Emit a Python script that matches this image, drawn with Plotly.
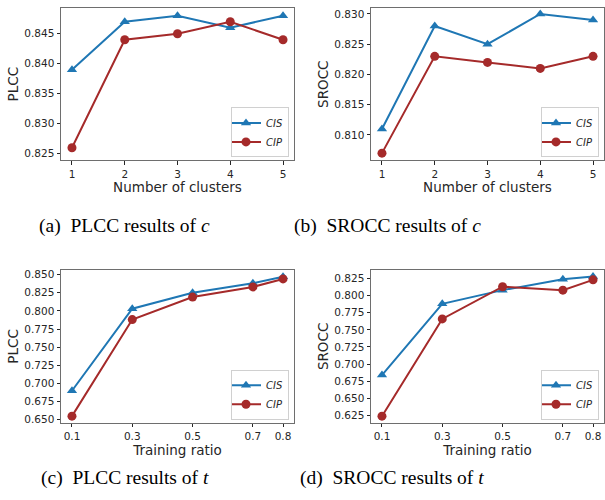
import plotly.graph_objects as go

clusters = [1, 2, 3, 4, 5]
ratios = [0.1, 0.3, 0.5, 0.7, 0.8]
ratio_labels = ["0.1", "0.3", "0.5", "0.7", "0.8"]

plcc_c_cis = [0.839, 0.847, 0.848, 0.846, 0.848]
plcc_c_cip = [0.826, 0.844, 0.845, 0.847, 0.844]
srocc_c_cis = [0.811, 0.828, 0.825, 0.830, 0.829]
srocc_c_cip = [0.807, 0.823, 0.822, 0.821, 0.823]
plcc_t_cis = [0.690, 0.803, 0.825, 0.838, 0.847]
plcc_t_cip = [0.655, 0.788, 0.819, 0.833, 0.844]
srocc_t_cis = [0.684, 0.788, 0.808, 0.824, 0.828]
srocc_t_cip = [0.624, 0.766, 0.813, 0.808, 0.823]

W, H = 605, 500
BLUE = "#1f77b4"
RED = "#a52a2a"
TXT = "#262626"
FRAME = "#6e6e6e"

fig = go.Figure()

panels = [
    (clusters, plcc_c_cis, plcc_c_cip, "legend", "PLCC", "Number of clusters",
     (61, 294), (6, 160), (0.8239, 0.8493), [0.825, 0.830, 0.835, 0.840, 0.845], (289, 157)),
    (clusters, srocc_c_cis, srocc_c_cip, "legend2", "SROCC", "Number of clusters",
     (371, 604), (6, 160), (0.8058, 0.8310), [0.810, 0.815, 0.820, 0.825, 0.830], (599, 157)),
    (ratios, plcc_t_cis, plcc_t_cip, "legend3", "PLCC", "Training ratio",
     (61, 294), (270.7, 425), (0.6459, 0.8563),
     [0.650, 0.675, 0.700, 0.725, 0.750, 0.775, 0.800, 0.825, 0.850], (289, 422)),
    (ratios, srocc_t_cis, srocc_t_cip, "legend4", "SROCC", "Training ratio",
     (371, 604), (270.7, 425), (0.6144, 0.8374),
     [0.625, 0.650, 0.675, 0.700, 0.725, 0.750, 0.775, 0.800, 0.825], (599, 422)),
]

for i, (xs, cis, cip, lg, ytitle, xtitle, xd, yd, yr, yt, lpos) in enumerate(panels):
    n = "" if i == 0 else str(i + 1)
    xa, ya = "x" + n, "y" + n
    fig.add_trace(go.Scatter(x=xs, y=cis, name="CIS", mode="lines+markers", xaxis=xa, yaxis=ya,
                             legend=lg, line=dict(color=BLUE, width=2),
                             marker=dict(symbol="triangle-up", size=9, color=BLUE)))
    fig.add_trace(go.Scatter(x=xs, y=cip, name="CIP", mode="lines+markers", xaxis=xa, yaxis=ya,
                             legend=lg, line=dict(color=RED, width=2),
                             marker=dict(symbol="circle", size=9, color=RED)))
    is_ratio = xs is ratios
    xpad = (xs[-1] - xs[0]) * 0.052
    xaxis = dict(
        domain=[xd[0] / W, xd[1] / W], anchor=ya,
        range=[xs[0] - xpad, xs[-1] + xpad],
        tickmode="array", tickvals=xs,
        ticktext=ratio_labels if is_ratio else [str(v) for v in xs],
        ticks="outside", ticklen=3.5, tickwidth=0.8, tickcolor=TXT,
        showgrid=False, zeroline=False, showline=True, linecolor=FRAME, linewidth=1, mirror=True,
        tickfont=dict(family="DejaVu Sans", size=10.5, color=TXT),
        title=dict(text=xtitle, font=dict(family="DejaVu Sans", size=13.5, color=TXT), standoff=2),
    )
    yaxis = dict(
        domain=[1 - yd[1] / H, 1 - yd[0] / H], anchor=xa,
        range=list(yr), tickmode="array", tickvals=yt, ticktext=["{:.3f}".format(v) for v in yt],
        ticks="outside", ticklen=3.5, tickwidth=0.8, tickcolor=TXT,
        showgrid=False, zeroline=False, showline=True, linecolor=FRAME, linewidth=1, mirror=True,
        tickfont=dict(family="DejaVu Sans", size=10.5, color=TXT),
        title=dict(text=ytitle, font=dict(family="DejaVu Sans", size=13.5, color=TXT), standoff=2),
    )
    fig.layout["xaxis" + n] = xaxis
    fig.layout["yaxis" + n] = yaxis
    fig.layout[lg] = dict(
        x=lpos[0] / W, y=1 - lpos[1] / H, xanchor="right", yanchor="bottom",
        bgcolor="rgba(255,255,255,0.8)", bordercolor="#d0d0d0", borderwidth=1,
        font=dict(family="DejaVu Sans", size=10, color=TXT, style="italic"),
        itemwidth=30, tracegroupgap=0, indentation=-6,
    )

captions = [
    ("(a)  PLCC results of <i>c</i>", 124.5, 226),
    ("(b)  SROCC results of <i>c</i>", 388, 226),
    ("(c)  PLCC results of <i>t</i>", 125, 481),
    ("(d)  SROCC results of <i>t</i>", 392, 481),
]
for text, cx, cy in captions:
    fig.add_annotation(text=text, x=cx / W, y=1 - cy / H, xref="paper", yref="paper",
                       xanchor="center", yanchor="middle", showarrow=False,
                       font=dict(family="Liberation Serif", size=19.5, color="black"))

fig.update_layout(width=W, height=H, margin=dict(l=0, r=0, t=0, b=0),
                  plot_bgcolor="white", paper_bgcolor="white", showlegend=True)

fig.write_html("out.html", config={"displayModeBar": False},
               post_script="document.body.style.margin='0';document.body.style.overflow='hidden';")
